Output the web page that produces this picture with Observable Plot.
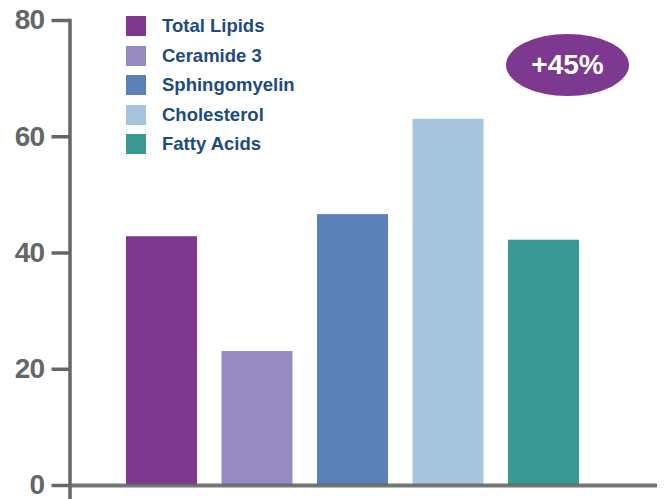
<!DOCTYPE html>
<html>
<head>
<meta charset="utf-8">
<script src="https://cdn.jsdelivr.net/npm/d3@7"></script>
<script src="https://cdn.jsdelivr.net/npm/@observablehq/plot@0.6"></script>
<style>
  html, body { margin: 0; padding: 0; background: #fff; }
  #wrap { position: relative; width: 664px; height: 499px; font-family: "Liberation Sans", Arial, sans-serif; }
  #legend { position: absolute; left: 126px; top: 16px; }
  .item { position: absolute; left: 0; height: 20px; display: flex; align-items: center; white-space: nowrap; }
  .sw { width: 20px; height: 20px; margin-right: 16px; }
  .lab { font-weight: bold; font-size: 18.5px; color: #1d4b7d; }
  #badge { position: absolute; left: 506px; top: 34px; width: 123px; height: 62px; border-radius: 50%;
           background: #7c398f; color: #fff; font-weight: bold; font-size: 28px;
           display: flex; align-items: center; justify-content: center; }
</style>
</head>
<body>
<div id="wrap"></div>
<script>
const categories = ["Total Lipids", "Ceramide 3", "Sphingomyelin", "Cholesterol", "Fatty Acids"];
const values = [42.8, 23.05, 46.6, 63, 42.2];
const colors = ["#7c398f", "#958bc2", "#5b81b8", "#a6c4de", "#389a93"];
const yTicks = [0, 20, 40, 60, 80];
const badgeText = "+45%";

const data = categories.map((c, i) => ({category: c, value: values[i]}));

const plot = Plot.plot({
  width: 664,
  height: 499,
  marginLeft: 69.5,
  marginRight: 7,
  marginTop: 20,
  marginBottom: 14,
  style: {fontFamily: "Liberation Sans, Arial, sans-serif", background: "transparent"},
  x: {domain: categories, paddingInner: 0.2565, paddingOuter: 0.704, align: 0.42, round: false, axis: null},
  y: {domain: [0, 80], axis: null},
  color: {domain: categories, range: colors},
  marks: [
    Plot.barY(data, {x: "category", y: "value", fill: "category"}),
    Plot.frame({anchor: "left", stroke: "#666", strokeWidth: 3.5, insetBottom: -14}),
    Plot.ruleY([0], {stroke: "#666", strokeWidth: 4, strokeOpacity: 0.9}),
    Plot.axisY({
      ticks: yTicks,
      label: null,
      tickSize: 18,
      tickPadding: 8,
      stroke: "#666",
      strokeWidth: 3.5,
      fill: "#666",
      fontSize: 28,
      fontWeight: "bold",
      tickFormat: d => String(d)
    })
  ]
});

const wrap = document.getElementById("wrap");
wrap.appendChild(plot);
d3.select(plot).selectAll("g[aria-label='y-axis tick label'] text").style("letter-spacing", "-1px");

const legend = document.createElement("div");
legend.id = "legend";
categories.forEach((c, i) => {
  const it = document.createElement("div");
  it.className = "item";
  it.style.top = (i * 29.5) + "px";
  it.innerHTML = `<div class="sw" style="background:${colors[i]}"></div><span class="lab">${c}</span>`;
  legend.appendChild(it);
});
wrap.appendChild(legend);

const badge = document.createElement("div");
badge.id = "badge";
badge.textContent = badgeText;
wrap.appendChild(badge);
</script>
</body>
</html>
